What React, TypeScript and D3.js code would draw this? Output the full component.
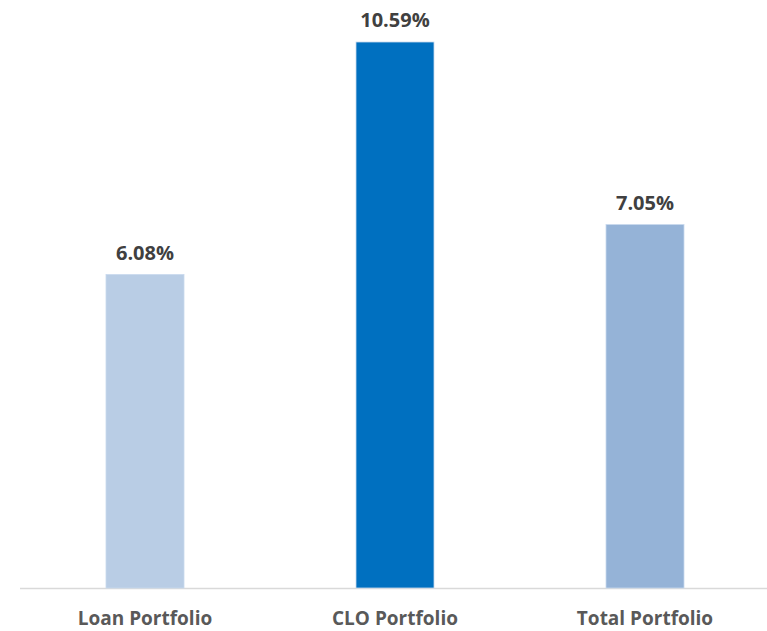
import React from "react";
import * as d3 from "d3";

const categories = ["Loan Portfolio", "CLO Portfolio", "Total Portfolio"];
const values = [6.08, 10.59, 7.05];
const colors = ["#B9CDE5", "#0070C0", "#95B3D7"];

const W = 767;
const H = 631;
const baseline = 588;

export default function App() {
  const x = d3.scaleBand<string>().domain(categories).range([20, 770]).paddingInner(0.688).paddingOuter(0.344);
  const y = d3.scaleLinear().domain([0, 10.59]).range([baseline, 42]);
  return (
    <svg width={W} height={H} style={{ position: "absolute", left: 0, top: 0, background: "#fff" }}>
      <line x1={20} x2={767} y1={baseline + 0.5} y2={baseline + 0.5} stroke="#D9D9D9" strokeWidth={1.5} />
      {categories.map((c, i) => {
        const bx = x(c)!;
        const bw = x.bandwidth();
        const top = y(values[i]);
        return (
          <g key={c}>
            <rect x={bx} y={top} width={bw} height={baseline - top} fill={colors[i]} stroke="#C9D9EE" strokeWidth={0.8} />
            <text x={bx + bw / 2} y={top - 15} textAnchor="middle" fontFamily="Open Sans" fontWeight="bold" fontSize={20} fill="#404040">
              {values[i].toFixed(2)}%
            </text>
            <text x={bx + bw / 2} y={625} textAnchor="middle" fontFamily="Open Sans" fontWeight="bold" fontSize={19} fill="#595959">
              {c}
            </text>
          </g>
        );
      })}
    </svg>
  );
}
